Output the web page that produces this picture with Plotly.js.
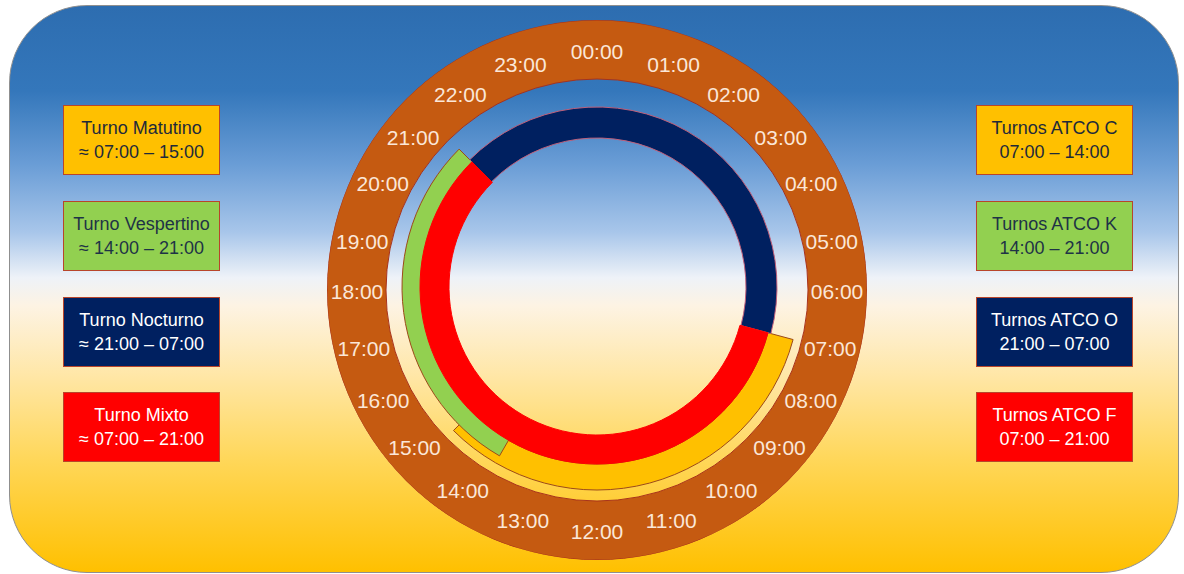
<!DOCTYPE html>
<html>
<head>
<meta charset="utf-8">
<script src="https://cdn.plot.ly/plotly-3.0.1.min.js"></script>
<style>
  html, body { margin: 0; padding: 0; background: #ffffff; }
  #wrap { position: relative; width: 1184px; height: 574px; overflow: hidden; background: #ffffff; }
  #bg {
    position: absolute; left: 9px; top: 5px; width: 1170px; height: 568px;
    border-radius: 78px; box-sizing: border-box;
    border: 1px solid #8f8f8f;
    background: linear-gradient(to bottom,
      #2d6db0 0%, #3477bb 15%, #6a9dd6 28%, #a8c6ea 40%, #eef2f8 48%,
      #fdf3e3 53%, #ffe7a8 65%, #ffd75a 80%, #ffc000 100%);
  }
  #chart { position: absolute; left: 0; top: 0; width: 1184px; height: 574px; }
</style>
</head>
<body>
<div id="wrap">
  <div id="bg"></div>
  <div id="chart"></div>
</div>
<script>
// ---- data ----
const hourLabels = ["00:00","01:00","02:00","03:00","04:00","05:00","06:00","07:00","08:00","09:00","10:00","11:00",
                    "12:00","13:00","14:00","15:00","16:00","17:00","18:00","19:00","20:00","21:00","22:00","23:00"];

const shiftNames  = ["Turno Matutino", "Turno Vespertino", "Turno Nocturno", "Turno Mixto"];
const shiftStart  = [7, 14, 21, 7];
const shiftEnd    = [15, 21, 7, 21];
const shiftStartLabel = ["07:00", "14:00", "21:00", "07:00"];
const shiftEndLabel   = ["15:00", "21:00", "07:00", "21:00"];

const atcoNames   = ["Turnos ATCO C", "Turnos ATCO K", "Turnos ATCO O", "Turnos ATCO F"];
const atcoStart   = ["07:00", "14:00", "21:00", "07:00"];
const atcoEnd     = ["14:00", "21:00", "07:00", "21:00"];

// ---- styles / placement ----
// label placement angles on the dial (degrees, clockwise from top), as laid out in the original
const labelTheta = [0, 18.6, 34.7, 50, 63.2, 78, 90, 103.7, 117, 130.5, 146, 162,
                    180, 198, 214, 229.5, 243, 256.3, 270, 282, 296.8, 310, 325.3, 341.4];
const fillColors = ["#ffc000", "#92d050", "#002060", "#ff0000"];
const lineColors = ["#9c4a1a", "#9c4a1a", "#c0607a", "#ff0000"];
const boxText    = ["#1e2a3a", "#1e3346", "#ffffff", "#ffffff"];
const ringBase   = [177, 175, 149, 148];   // inner radius of each arc
const ringThick  = [26, 20, 31, 29];       // thickness of each arc
const drawOrder  = [0, 1, 2, 3];

function span(s, e) { let d = e - s; if (d <= 0) d += 24; return d; }

const traces = [];
// brown clock ring
traces.push({
  type: "barpolar", subplot: "polar", r: [59], base: [211], theta: [0], width: [360],
  marker: { color: "#c55a11", line: { color: "#a8321c", width: 1 } },
  hoverinfo: "skip", showlegend: false
});
drawOrder.forEach(i => {
  const d = span(shiftStart[i], shiftEnd[i]);
  traces.push({
    type: "barpolar", subplot: "polar2",
    r: [ringThick[i]], base: [ringBase[i]],
    theta: [((shiftStart[i] + d / 2) % 24) * 15],
    width: [d * 15],
    name: shiftNames[i],
    marker: { color: fillColors[i], line: { color: lineColors[i], width: 1 } },
    hoverinfo: "skip", showlegend: false
  });
});
// hour labels
traces.push({
  type: "scatterpolar", subplot: "polar3", mode: "text",
  r: hourLabels.map(() => 240), theta: labelTheta,
  text: hourLabels,
  textfont: { family: "Liberation Sans, Arial, sans-serif", size: 21, color: "#fbe7d8" },
  hoverinfo: "skip", showlegend: false
});

const W = 1184, H = 574;
const cx = 597, R = 270;

function polarAt(cy) {
  return {
    domain: { x: [(cx - R) / W, (cx + R) / W], y: [1 - (cy + R) / H, 1 - (cy - R) / H] },
    bgcolor: "rgba(0,0,0,0)",
    barmode: "overlay",
    hole: 0,
    radialaxis: { range: [0, R], visible: false, showgrid: false, showline: false, showticklabels: false, ticks: "" },
    angularaxis: { rotation: 90, direction: "clockwise", thetaunit: "degrees",
                   visible: false, showgrid: false, showline: false, showticklabels: false, ticks: "" }
  };
}

const annotations = [];
const boxYs = [140, 236, 332, 427];
function addBox(xc, yc, text, i) {
  annotations.push({
    xref: "paper", yref: "paper", x: xc / W, y: 1 - yc / H,
    xanchor: "center", yanchor: "middle", showarrow: false,
    text: text, align: "center",
    font: { family: "Liberation Sans, Arial, sans-serif", size: 18, color: boxText[i] },
    bgcolor: fillColors[i], bordercolor: "#b8452b", borderwidth: 1, borderpad: 0,
    width: 155, height: 68
  });
}
for (let i = 0; i < 4; i++) {
  addBox(141, boxYs[i], shiftNames[i] + "<br>≈ " + shiftStartLabel[i] + " – " + shiftEndLabel[i], i);
  addBox(1054, boxYs[i], atcoNames[i] + "<br>" + atcoStart[i] + " – " + atcoEnd[i], i);
}

const layout = {
  width: W, height: H,
  margin: { l: 0, r: 0, t: 0, b: 0, pad: 0 },
  paper_bgcolor: "rgba(0,0,0,0)", plot_bgcolor: "rgba(0,0,0,0)",
  showlegend: false,
  polar: polarAt(290),
  polar2: polarAt(287),
  polar3: polarAt(294),
  annotations: annotations
};

Plotly.newPlot("chart", traces, layout, { displayModeBar: false, staticPlot: true });
</script>
</body>
</html>
